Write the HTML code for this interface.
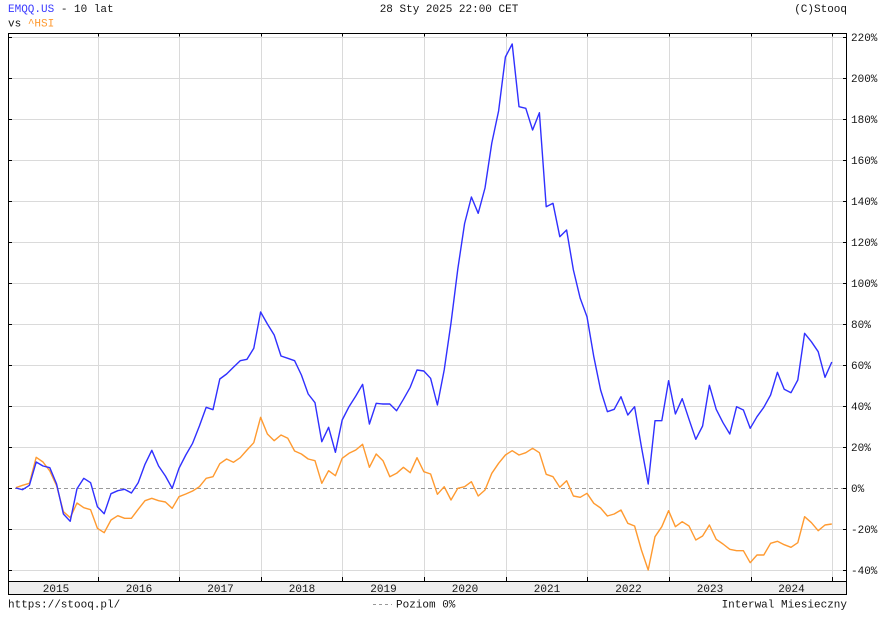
<!DOCTYPE html>
<html>
<head>
<meta charset="utf-8">
<style>
  html,body{margin:0;padding:0;background:#fff;}
  svg{display:block;}
  text{font-family:"Liberation Mono","DejaVu Sans Mono",monospace;font-size:11px;fill:#141414;}
</style>
</head>
<body>
<svg width="888" height="620" viewBox="0 0 888 620" xmlns="http://www.w3.org/2000/svg">
  <rect x="0" y="0" width="888" height="620" fill="#fff"/>

  <!-- header -->
  <text x="8" y="12"><tspan fill="#3a3aff">EMQQ.US</tspan> - 10 lat</text>
  <text x="8" y="26.5">vs <tspan fill="#ff9a30">^HSI</tspan></text>
  <text x="449" y="12" text-anchor="middle">28 Sty 2025 22:00 CET</text>
  <text x="847" y="12" text-anchor="end">(C)Stooq</text>

  <!-- horizontal gridlines -->
  <g stroke="#dadada" stroke-width="1">
    <line x1="8" y1="570.5" x2="847" y2="570.5"/>
    <line x1="8" y1="529.5" x2="847" y2="529.5"/>
    <line x1="8" y1="447.5" x2="847" y2="447.5"/>
    <line x1="8" y1="406.5" x2="847" y2="406.5"/>
    <line x1="8" y1="365.5" x2="847" y2="365.5"/>
    <line x1="8" y1="324.5" x2="847" y2="324.5"/>
    <line x1="8" y1="283.5" x2="847" y2="283.5"/>
    <line x1="8" y1="242.5" x2="847" y2="242.5"/>
    <line x1="8" y1="201.5" x2="847" y2="201.5"/>
    <line x1="8" y1="160.5" x2="847" y2="160.5"/>
    <line x1="8" y1="119.5" x2="847" y2="119.5"/>
    <line x1="8" y1="78.5" x2="847" y2="78.5"/>
    <line x1="8" y1="37.5" x2="847" y2="37.5"/>
  </g>
  <!-- vertical gridlines -->
  <g stroke="#dadada" stroke-width="1">
    <line x1="98.5" y1="33" x2="98.5" y2="581"/>
    <line x1="179.5" y1="33" x2="179.5" y2="581"/>
    <line x1="261.5" y1="33" x2="261.5" y2="581"/>
    <line x1="342.5" y1="33" x2="342.5" y2="581"/>
    <line x1="424.5" y1="33" x2="424.5" y2="581"/>
    <line x1="506.5" y1="33" x2="506.5" y2="581"/>
    <line x1="587.5" y1="33" x2="587.5" y2="581"/>
    <line x1="669.5" y1="33" x2="669.5" y2="581"/>
    <line x1="751.5" y1="33" x2="751.5" y2="581"/>
    <line x1="832.5" y1="33" x2="832.5" y2="581"/>
  </g>
  <!-- zero line -->
  <line x1="8" y1="488.5" x2="847" y2="488.5" stroke="#999" stroke-width="1" stroke-dasharray="4,3"/>

  <!-- series: HSI -->
  <polyline fill="none" stroke="#ff9a30" stroke-width="1.4" stroke-linejoin="round" points="
15.8,487.7 22.6,485.3 29.4,483.3 36.2,457.3 43,462 49.8,471 56.6,485.7 63.4,511.7 70.2,517.7 77,503
83.8,507.7 90.6,509.7 97.4,528.3 104.2,532.7 111,520 117.8,515.7 124.6,518.3 131.4,518.3 138.2,509.3 145,500.7
151.8,498.3 158.6,500.7 165.4,502 172.2,508.3 179,496.7 185.8,494 192.6,491 199.4,486.7 206.2,478.3 213,476.7
219.8,463.7 226.6,459 233.4,462.3 240.2,457.7 247,450 253.8,442.7 260.6,417.3 267.4,434 274.2,440.7 281,435
287.8,438.3 294.6,451 301.4,454 308.2,459 315,460.7 321.8,483.3 328.6,470.7 335.4,475.7 342.2,458.3 349,453.3
355.8,450 362.6,444.3 369.4,467.3 376.2,454 383,460.7 389.8,476.7 396.6,473.3 403.4,467.3 410.2,472.7 417,457.7
423.8,471.7 430.6,474 437.4,494.3 444.2,486.7 451,500 457.8,488.3 464.6,486.7 471.4,481.7 478.2,496 485,490
491.8,473.3 498.6,463.3 505.4,455 512.2,450.7 519,455 525.8,452.7 532.6,448.3 539.4,452.7 546.2,474.3 553,476.7
559.8,487.3 566.6,480.7 573.4,496 580.2,497.3 587,493.3 593.8,503.3 600.6,508 607.4,516 614.2,514 621,510
627.8,523.3 634.6,526 641.4,550 648.2,570 655,536.7 661.8,526.7 668.6,510.7 675.4,526.7 682.2,521.7 689,526
695.8,540 702.6,536 709.4,525 716.2,539.3 723,544 729.8,549.3 736.6,550.7 743.4,550.7 750.2,562.7 757,555
763.8,555 770.6,543.3 777.4,541.3 784.2,544.7 791,547.3 797.8,542.7 804.6,516.7 811.4,522.7 818.2,530.7 825,525
831.8,524"/>

  <!-- series: EMQQ -->
  <polyline fill="none" stroke="#3030ff" stroke-width="1.4" stroke-linejoin="round" points="
15.8,488 22.6,489.7 29.4,485.3 36.2,462 43,466 49.8,467.7 56.6,484 63.4,514 70.2,521.3 77,488.7
83.8,478.3 90.6,482.7 97.4,506.7 104.2,513.7 111,493.7 117.8,490.7 124.6,489.3 131.4,493 138.2,482.7 145,464.3
151.8,450.3 158.6,466 165.4,476 172.2,488.3 179,468.3 185.8,455 192.6,443.3 199.4,426 206.2,407.3 213,409.7
219.8,379 226.6,374 233.4,367.3 240.2,360.7 247,359.3 253.8,348.3 260.6,312 267.4,324 274.2,335 281,356
287.8,358.3 294.6,360.7 301.4,375 308.2,394 315,402.7 321.8,441.7 328.6,427.3 335.4,452.3 342.2,420 349,406.7
355.8,396 362.6,384.3 369.4,424 376.2,403.3 383,404 389.8,404 396.6,410.7 403.4,399.3 410.2,387.3 417,370
423.8,371 430.6,378.3 437.4,405 444.2,370 451,323 457.8,269 464.6,223.5 471.4,197 478.2,213.3 485,188
491.8,143 498.6,111 505.4,57 512.2,44 519,106.7 525.8,108.3 532.6,130 539.4,112.7 546.2,206.7 553,203.3
559.8,236.7 566.6,230 573.4,270 580.2,298.3 587,316.7 593.8,356.7 600.6,390 607.4,411.7 614.2,409.3 621,396.7
627.8,415 634.6,406.7 641.4,446.7 648.2,484 655,420.7 661.8,420.7 668.6,380.7 675.4,414 682.2,398.7 689,419.3
695.8,439.3 702.6,426 709.4,385.3 716.2,409.3 723,422.7 729.8,434 736.6,406.7 743.4,410 750.2,428.3 757,416.7
763.8,407.3 770.6,395 777.4,372.3 784.2,389.3 791,392.7 797.8,380 804.6,333.3 811.4,341.7 818.2,351.7 825,377.3
831.8,362"/>

  <!-- x-axis strip -->
  <rect x="8.5" y="581.5" width="838" height="12.5" fill="#eeeeee" stroke="none"/>

  <!-- ticks -->
  <g stroke="#000" stroke-width="1">
    <line x1="98.5" y1="33" x2="98.5" y2="36.5"/>
    <line x1="179.5" y1="33" x2="179.5" y2="36.5"/>
    <line x1="261.5" y1="33" x2="261.5" y2="36.5"/>
    <line x1="342.5" y1="33" x2="342.5" y2="36.5"/>
    <line x1="424.5" y1="33" x2="424.5" y2="36.5"/>
    <line x1="506.5" y1="33" x2="506.5" y2="36.5"/>
    <line x1="587.5" y1="33" x2="587.5" y2="36.5"/>
    <line x1="669.5" y1="33" x2="669.5" y2="36.5"/>
    <line x1="751.5" y1="33" x2="751.5" y2="36.5"/>
    <line x1="832.5" y1="33" x2="832.5" y2="36.5"/>
    <line x1="98.5" y1="581" x2="98.5" y2="577"/>
    <line x1="179.5" y1="581" x2="179.5" y2="577"/>
    <line x1="261.5" y1="581" x2="261.5" y2="577"/>
    <line x1="342.5" y1="581" x2="342.5" y2="577"/>
    <line x1="424.5" y1="581" x2="424.5" y2="577"/>
    <line x1="506.5" y1="581" x2="506.5" y2="577"/>
    <line x1="587.5" y1="581" x2="587.5" y2="577"/>
    <line x1="669.5" y1="581" x2="669.5" y2="577"/>
    <line x1="751.5" y1="581" x2="751.5" y2="577"/>
    <line x1="832.5" y1="581" x2="832.5" y2="577"/>
    <line x1="8" y1="570.5" x2="12" y2="570.5"/>
    <line x1="8" y1="529.5" x2="12" y2="529.5"/>
    <line x1="8" y1="488.5" x2="12" y2="488.5"/>
    <line x1="8" y1="447.5" x2="12" y2="447.5"/>
    <line x1="8" y1="406.5" x2="12" y2="406.5"/>
    <line x1="8" y1="365.5" x2="12" y2="365.5"/>
    <line x1="8" y1="324.5" x2="12" y2="324.5"/>
    <line x1="8" y1="283.5" x2="12" y2="283.5"/>
    <line x1="8" y1="242.5" x2="12" y2="242.5"/>
    <line x1="8" y1="201.5" x2="12" y2="201.5"/>
    <line x1="8" y1="160.5" x2="12" y2="160.5"/>
    <line x1="8" y1="119.5" x2="12" y2="119.5"/>
    <line x1="8" y1="78.5" x2="12" y2="78.5"/>
    <line x1="8" y1="37.5" x2="12" y2="37.5"/>
    <line x1="843" y1="570.5" x2="847" y2="570.5"/>
    <line x1="843" y1="529.5" x2="847" y2="529.5"/>
    <line x1="843" y1="488.5" x2="847" y2="488.5"/>
    <line x1="843" y1="447.5" x2="847" y2="447.5"/>
    <line x1="843" y1="406.5" x2="847" y2="406.5"/>
    <line x1="843" y1="365.5" x2="847" y2="365.5"/>
    <line x1="843" y1="324.5" x2="847" y2="324.5"/>
    <line x1="843" y1="283.5" x2="847" y2="283.5"/>
    <line x1="843" y1="242.5" x2="847" y2="242.5"/>
    <line x1="843" y1="201.5" x2="847" y2="201.5"/>
    <line x1="843" y1="160.5" x2="847" y2="160.5"/>
    <line x1="843" y1="119.5" x2="847" y2="119.5"/>
    <line x1="843" y1="78.5" x2="847" y2="78.5"/>
    <line x1="843" y1="37.5" x2="847" y2="37.5"/>
  </g>

  <!-- frame -->
  <g fill="none" stroke="#000" stroke-width="1">
    <rect x="8.5" y="33.5" width="838" height="561"/>
    <line x1="8" y1="581.5" x2="847" y2="581.5"/>
  </g>

  <!-- y labels -->
  <text x="851" y="41">220%</text>
  <text x="851" y="82">200%</text>
  <text x="851" y="123">180%</text>
  <text x="851" y="164">160%</text>
  <text x="851" y="205">140%</text>
  <text x="851" y="246">120%</text>
  <text x="851" y="287">100%</text>
  <text x="851" y="328">80%</text>
  <text x="851" y="369">60%</text>
  <text x="851" y="410">40%</text>
  <text x="851" y="451">20%</text>
  <text x="851" y="492">0%</text>
  <text x="851" y="533">-20%</text>
  <text x="851" y="574">-40%</text>

  <!-- year labels -->
  <text x="56" y="592" text-anchor="middle">2015</text>
  <text x="139" y="592" text-anchor="middle">2016</text>
  <text x="220.5" y="592" text-anchor="middle">2017</text>
  <text x="302" y="592" text-anchor="middle">2018</text>
  <text x="383.5" y="592" text-anchor="middle">2019</text>
  <text x="465" y="592" text-anchor="middle">2020</text>
  <text x="547" y="592" text-anchor="middle">2021</text>
  <text x="628.5" y="592" text-anchor="middle">2022</text>
  <text x="710" y="592" text-anchor="middle">2023</text>
  <text x="791.5" y="592" text-anchor="middle">2024</text>

  <!-- footer -->
  <text x="8" y="607.5">https://stooq.pl/</text>
  <line x1="373" y1="604.5" x2="392" y2="604.5" stroke="#999" stroke-width="1" stroke-dasharray="3,3"/>
  <text x="396" y="607.5">Poziom 0%</text>
  <text x="847" y="607.5" text-anchor="end">Interwal Miesieczny</text>
</svg>
</body>
</html>
